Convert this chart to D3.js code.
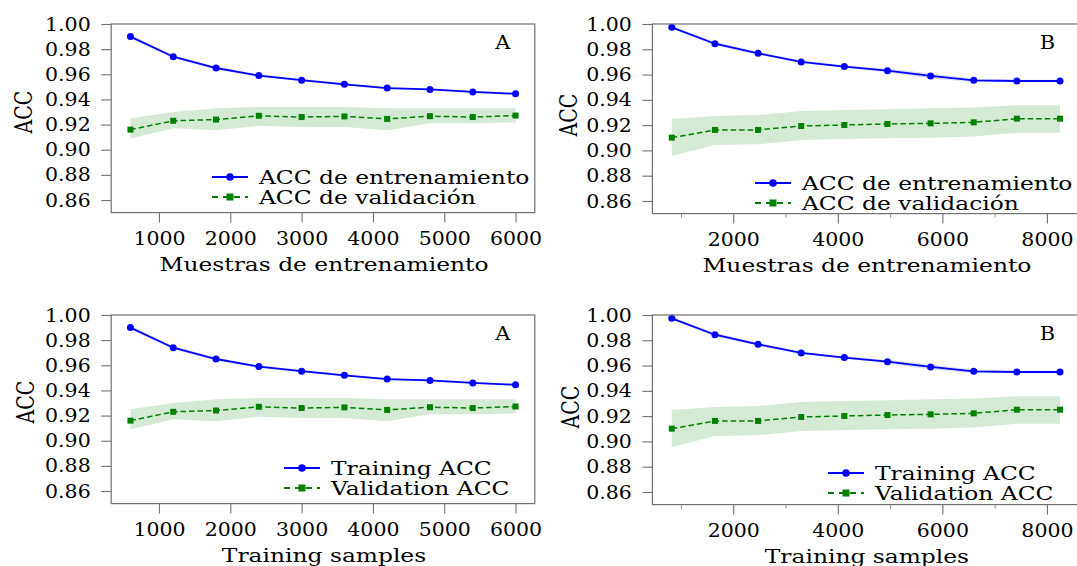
<!DOCTYPE html>
<html>
<head>
<meta charset="utf-8">
<script src="https://cdn.jsdelivr.net/npm/d3@7"></script>
<style>
  body { margin: 0; background: #fff; }
</style>
</head>
<body>
<svg id="chart" width="1077" height="566"></svg>
<script>
// learning curves, set A (6000 samples) and set B (8250 samples)
const sizesA = [600, 1200, 1800, 2400, 3000, 3600, 4200, 4800, 5400, 6000];
const trainA = [0.990, 0.974, 0.965, 0.959, 0.9553, 0.952, 0.949, 0.948, 0.946, 0.9445];
const trainStdA = [0.0015, 0.0012, 0.0012, 0.001, 0.001, 0.001, 0.0008, 0.0008, 0.0008, 0.0008];
const valA = [0.916, 0.923, 0.924, 0.927, 0.926, 0.9265, 0.9245, 0.9267, 0.926, 0.9272];
const valHiA = [0.925, 0.930, 0.933, 0.934, 0.934, 0.934, 0.933, 0.933, 0.933, 0.933];
const valLoA = [0.909, 0.917, 0.9155, 0.919, 0.918, 0.918, 0.9155, 0.921, 0.921, 0.9217];

const sizesB = [825, 1650, 2475, 3300, 4125, 4950, 5775, 6600, 7425, 8250];
const trainB = [0.9974, 0.9844, 0.9768, 0.970, 0.9663, 0.9631, 0.9589, 0.9554, 0.9549, 0.9549];
const trainStdB = [0.001, 0.0015, 0.0012, 0.001, 0.001, 0.0015, 0.002, 0.0012, 0.001, 0.001];
const valB = [0.9101, 0.9162, 0.9162, 0.9193, 0.9201, 0.9209, 0.9214, 0.9222, 0.9251, 0.9251];
const valHiB = [0.9249, 0.9272, 0.928, 0.9312, 0.932, 0.9325, 0.9333, 0.934, 0.9357, 0.9357];
const valLoB = [0.8956, 0.9043, 0.9048, 0.9083, 0.909, 0.9096, 0.910, 0.911, 0.914, 0.914];

const yTicks = [0.86, 0.88, 0.90, 0.92, 0.94, 0.96, 0.98, 1.00];
const xTicksA = [1000, 2000, 3000, 4000, 5000, 6000];
const xTicksB = [2000, 4000, 6000, 8000];
const xMinorB = [1000, 3000, 5000, 7000];

const labelsES = { x: 'Muestras de entrenamiento', train: 'ACC de entrenamiento', val: 'ACC de validación' };
const labelsEN = { x: 'Training samples', train: 'Training ACC', val: 'Validation ACC' };

const FONT = "'DejaVu Serif', serif";
const SX = 1.23;      // the source picture is stretched sideways
const BLUE = '#0000ff';
const GREEN = '#008000';

const svg = d3.select('#chart');

const sets = {
  A: { sizes: sizesA, train: trainA, std: trainStdA, val: valA, hi: valHiA, lo: valLoA,
       xDomain: [330, 6270], xRange: [111.2, 534.8], ticks: xTicksA, minor: [] },
  B: { sizes: sizesB, train: trainB, std: trainStdB, val: valB, hi: valHiB, lo: valLoB,
       xDomain: [454, 8621], xRange: [652.4, 1079.4], ticks: xTicksB, minor: xMinorB }
};

const panels = [
  { set: 'A', labels: labelsES, yTop: 24, yBot: 212.6, legX: 212, legY: 177, ylab: [23, 112] },
  { set: 'B', labels: labelsES, yTop: 24, yBot: 213.6, legX: 755, legY: 183, ylab: [568, 115] },
  { set: 'A', labels: labelsEN, yTop: 315, yBot: 503.6, legX: 284, legY: 468, ylab: [25, 402] },
  { set: 'B', labels: labelsEN, yTop: 315, yBot: 504.6, legX: 828, legY: 473, ylab: [570, 407] }
];

function stext(g, str, x, y, size, anchor, sx) {
  return g.append('text')
    .attr('transform', 'translate(' + x + ',' + y + ') scale(' + (sx || SX) + ',1)')
    .attr('text-anchor', anchor || 'start')
    .attr('dy', '0.35em')
    .attr('font-family', FONT)
    .attr('font-size', size)
    .attr('fill', '#000')
    .text(str);
}

panels.forEach(p => {
  const s = sets[p.set];
  const x = d3.scaleLinear().domain(s.xDomain).range(s.xRange);
  const y = d3.scaleLinear().domain([0.85, 1.0]).range([p.yBot, p.yTop]);
  const g = svg.append('g');
  const [x0, x1] = s.xRange;

  // bands
  const idx = d3.range(s.sizes.length);
  const area = d3.area().x(i => x(s.sizes[i]));
  g.append('path')
    .attr('d', area.y0(i => y(s.lo[i])).y1(i => y(s.hi[i]))(idx))
    .attr('fill', GREEN).attr('fill-opacity', 0.17);
  g.append('path')
    .attr('d', area.y0(i => y(s.train[i] - s.std[i])).y1(i => y(s.train[i] + s.std[i]))(idx))
    .attr('fill', BLUE).attr('fill-opacity', 0.14);

  // lines
  const line = d3.line().x(i => x(s.sizes[i]));
  g.append('path')
    .attr('d', line.y(i => y(s.train[i]))(idx))
    .attr('fill', 'none').attr('stroke', BLUE).attr('stroke-width', 1.8);
  g.append('path')
    .attr('d', line.y(i => y(s.val[i]))(idx))
    .attr('fill', 'none').attr('stroke', GREEN).attr('stroke-width', 1.5)
    .attr('stroke-dasharray', '5.5,3');

  g.selectAll(null).data(idx).join('circle')
    .attr('cx', i => x(s.sizes[i])).attr('cy', i => y(s.train[i]))
    .attr('r', 3.5).attr('fill', BLUE);
  g.selectAll(null).data(idx).join('rect')
    .attr('x', i => x(s.sizes[i]) - 3).attr('y', i => y(s.val[i]) - 3)
    .attr('width', 6).attr('height', 6).attr('fill', GREEN);

  // frame
  g.append('rect')
    .attr('x', x0).attr('y', p.yTop)
    .attr('width', x1 - x0).attr('height', p.yBot - p.yTop)
    .attr('fill', 'none').attr('stroke', '#707070').attr('stroke-width', 1.2);

  // axes
  const ya = g.append('g').attr('transform', 'translate(' + x0 + ',0)')
    .call(d3.axisLeft(y).tickValues(yTicks).tickFormat(d3.format('.2f'))
      .tickSize(10).tickPadding(9));
  const xa = g.append('g').attr('transform', 'translate(0,' + p.yBot + ')')
    .call(d3.axisBottom(x).tickValues(s.ticks).tickFormat(d3.format('d'))
      .tickSize(10).tickPadding(9));
  if (s.minor.length) {
    g.append('g').attr('transform', 'translate(0,' + p.yBot + ')')
      .call(d3.axisBottom(x).tickValues(s.minor).tickFormat('').tickSize(4))
      .call(a => a.select('.domain').remove())
      .selectAll('line').attr('stroke', '#909090');
  }
  [ya, xa].forEach(a => {
    a.select('.domain').remove();
    a.selectAll('line').attr('stroke', '#707070').attr('stroke-width', 1.1);
    a.selectAll('text')
      .attr('font-family', FONT).attr('font-size', 19).attr('fill', '#000')
      .attr('transform', 'scale(1.08,1)');
  });

  // labels
  stext(g, p.labels.x, (x0 + x1) / 2 + 1, p.yBot + 52, 19, 'middle');
  g.append('text')
    .attr('transform', 'translate(' + p.ylab[0] + ',' + p.ylab[1] + ') rotate(-90) scale(1,1.3)')
    .attr('text-anchor', 'middle').attr('dy', '0.35em')
    .attr('font-family', FONT).attr('font-size', 19).attr('fill', '#000')
    .text('ACC');
  stext(g, p.set, x1 - 32, p.yTop + 18, 19, 'middle', 1.1);

  // legend
  const lg = g.append('g');
  lg.append('line')
    .attr('x1', p.legX).attr('x2', p.legX + 36)
    .attr('y1', p.legY).attr('y2', p.legY)
    .attr('stroke', BLUE).attr('stroke-width', 2);
  lg.append('circle').attr('cx', p.legX + 18).attr('cy', p.legY).attr('r', 3.8).attr('fill', BLUE);
  lg.append('line')
    .attr('x1', p.legX).attr('x2', p.legX + 36)
    .attr('y1', p.legY + 20).attr('y2', p.legY + 20)
    .attr('stroke', GREEN).attr('stroke-width', 2).attr('stroke-dasharray', '6,5');
  lg.append('rect').attr('x', p.legX + 14.5).attr('y', p.legY + 16.5)
    .attr('width', 7).attr('height', 7).attr('fill', GREEN);
  stext(lg, p.labels.train, p.legX + 47, p.legY, 19);
  stext(lg, p.labels.val, p.legX + 47, p.legY + 20, 19);
});
</script>
</body>
</html>
